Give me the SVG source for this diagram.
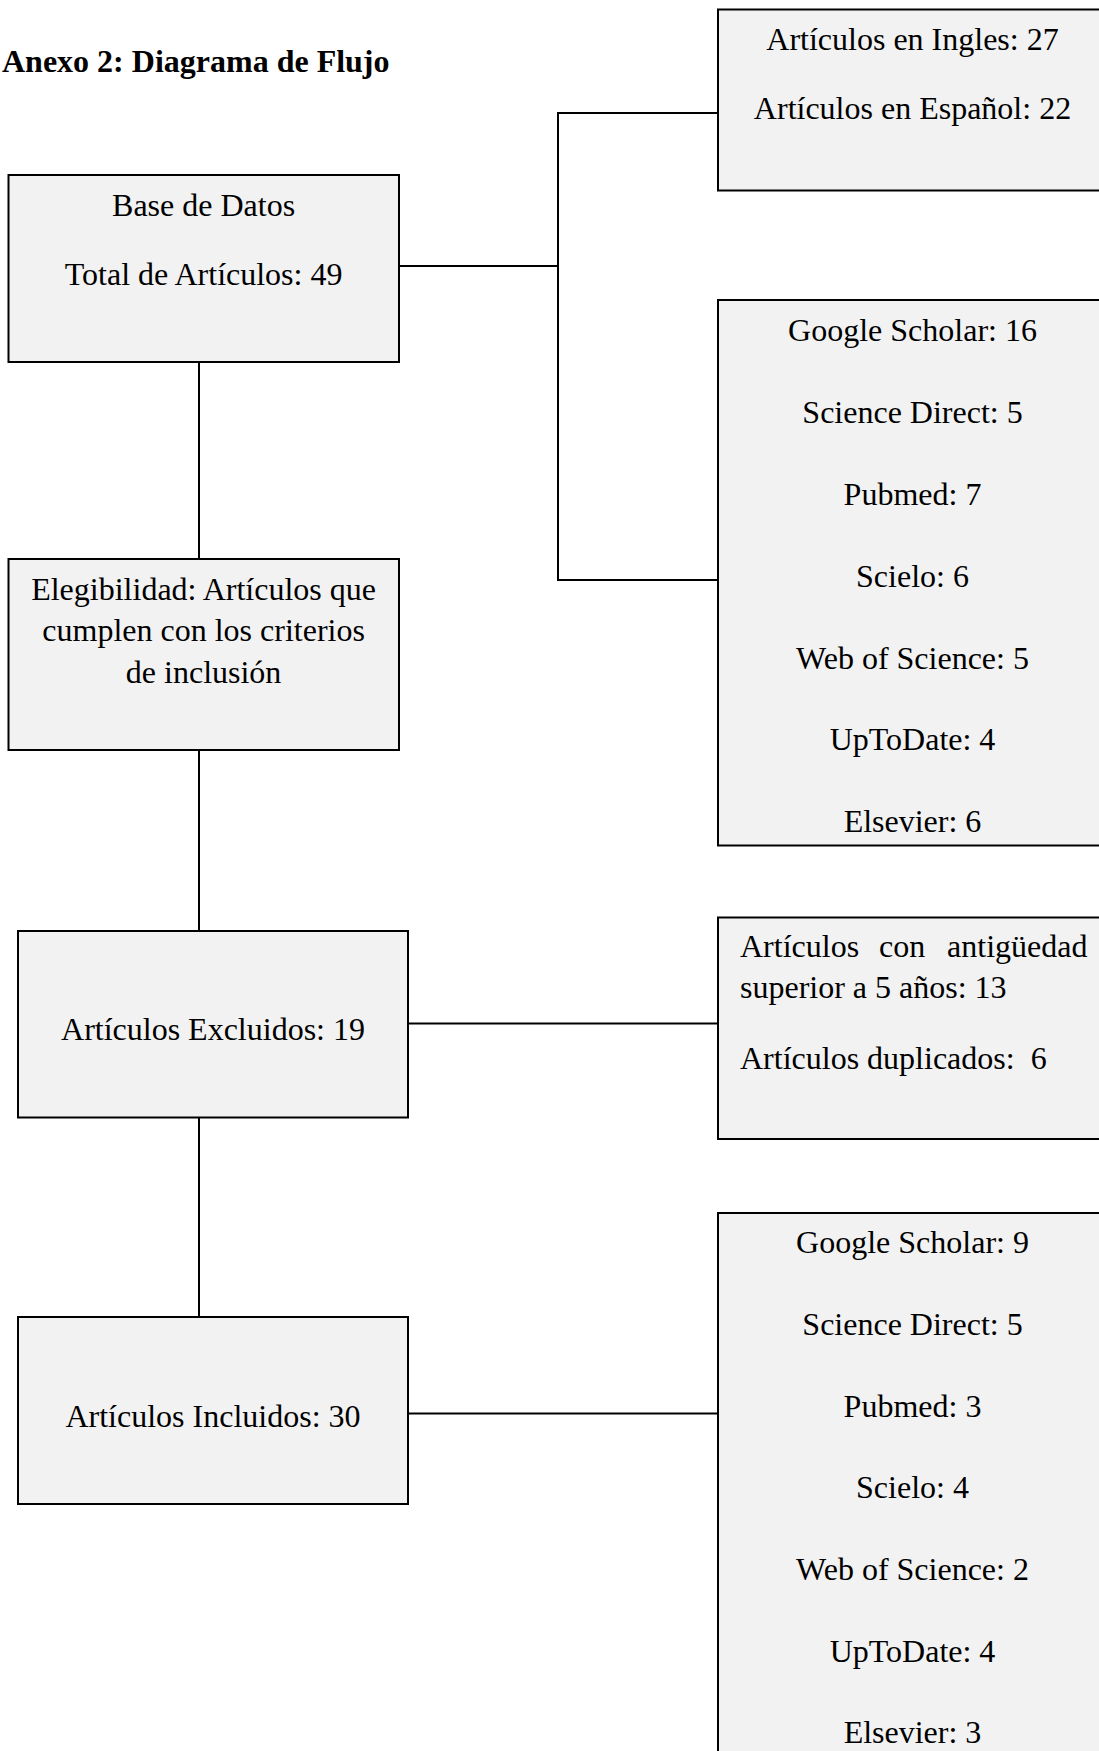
<svg xmlns="http://www.w3.org/2000/svg" width="1099" height="1751" viewBox="0 0 1099 1751">
<style>
.box{fill:#f2f2f2;stroke:#000;stroke-width:2}
.ln{fill:none;stroke:#000;stroke-width:2}
text{font-family:"Liberation Serif","Times New Roman",serif;font-size:32px;fill:#000}
.c{text-anchor:middle}
.t{font-weight:bold}
</style>
<rect width="1099" height="1751" fill="#fff"/>
<text class="t" x="2" y="72">Anexo 2: Diagrama de Flujo</text>
<g id="connectors">
<line class="ln" x1="199" y1="362" x2="199" y2="1317"/>
<polyline class="ln" points="399,266 558,266"/>
<polyline class="ln" points="718,113 558,113 558,580 718,580"/>
<line class="ln" x1="408" y1="1023.5" x2="718" y2="1023.5"/>
<line class="ln" x1="408" y1="1413.5" x2="718" y2="1413.5"/>
</g>
<g id="base-datos">
<rect class="box" x="8.5" y="175" width="390.5" height="187"/>
<text class="c" x="203.6" y="216">Base de Datos</text>
<text class="c" x="203.6" y="285">Total de Artículos: 49</text>
</g>
<g id="elegibilidad">
<rect class="box" x="8.5" y="559" width="390.5" height="191"/>
<text class="c" x="203.6" y="600">Elegibilidad: Artículos que</text>
<text class="c" x="203.6" y="641">cumplen con los criterios</text>
<text class="c" x="203.6" y="683">de inclusión</text>
</g>
<g id="excluidos">
<rect class="box" x="18" y="931" width="390" height="186.5"/>
<text class="c" x="213" y="1040">Artículos Excluidos: 19</text>
</g>
<g id="incluidos">
<rect class="box" x="18" y="1317" width="390" height="187"/>
<text class="c" x="213" y="1427">Artículos Incluidos: 30</text>
</g>
<g id="idiomas">
<rect class="box" x="718" y="9.5" width="400" height="181"/>
<text class="c" x="912.5" y="50">Artículos en Ingles: 27</text>
<text class="c" x="912.5" y="118.5">Artículos en Español: 22</text>
</g>
<g id="fuentes-total">
<rect class="box" x="718" y="300" width="400" height="545.5"/>
<text class="c" x="912.5" y="341">Google Scholar: 16</text>
<text class="c" x="912.5" y="423">Science Direct: 5</text>
<text class="c" x="912.5" y="505">Pubmed: 7</text>
<text class="c" x="912.5" y="587">Scielo: 6</text>
<text class="c" x="912.5" y="668.5">Web of Science: 5</text>
<text class="c" x="912.5" y="750">UpToDate: 4</text>
<text class="c" x="912.5" y="832">Elsevier: 6</text>
</g>
<g id="motivos-exclusion">
<rect class="box" x="718" y="917.5" width="400" height="221.5"/>
<text y="957"><tspan x="740">Artículos</tspan><tspan x="879">con</tspan><tspan x="1087.5" text-anchor="end">antigüedad</tspan></text>
<text x="740" y="998">superior a 5 años: 13</text>
<text x="740" y="1069" style="white-space:pre">Artículos duplicados:  6</text>
</g>
<g id="fuentes-incluidos">
<rect class="box" x="718" y="1213" width="400" height="560"/>
<text class="c" x="912.5" y="1253">Google Scholar: 9</text>
<text class="c" x="912.5" y="1335">Science Direct: 5</text>
<text class="c" x="912.5" y="1416.5">Pubmed: 3</text>
<text class="c" x="912.5" y="1498">Scielo: 4</text>
<text class="c" x="912.5" y="1580">Web of Science: 2</text>
<text class="c" x="912.5" y="1661.5">UpToDate: 4</text>
<text class="c" x="912.5" y="1743">Elsevier: 3</text>
</g>
</svg>
